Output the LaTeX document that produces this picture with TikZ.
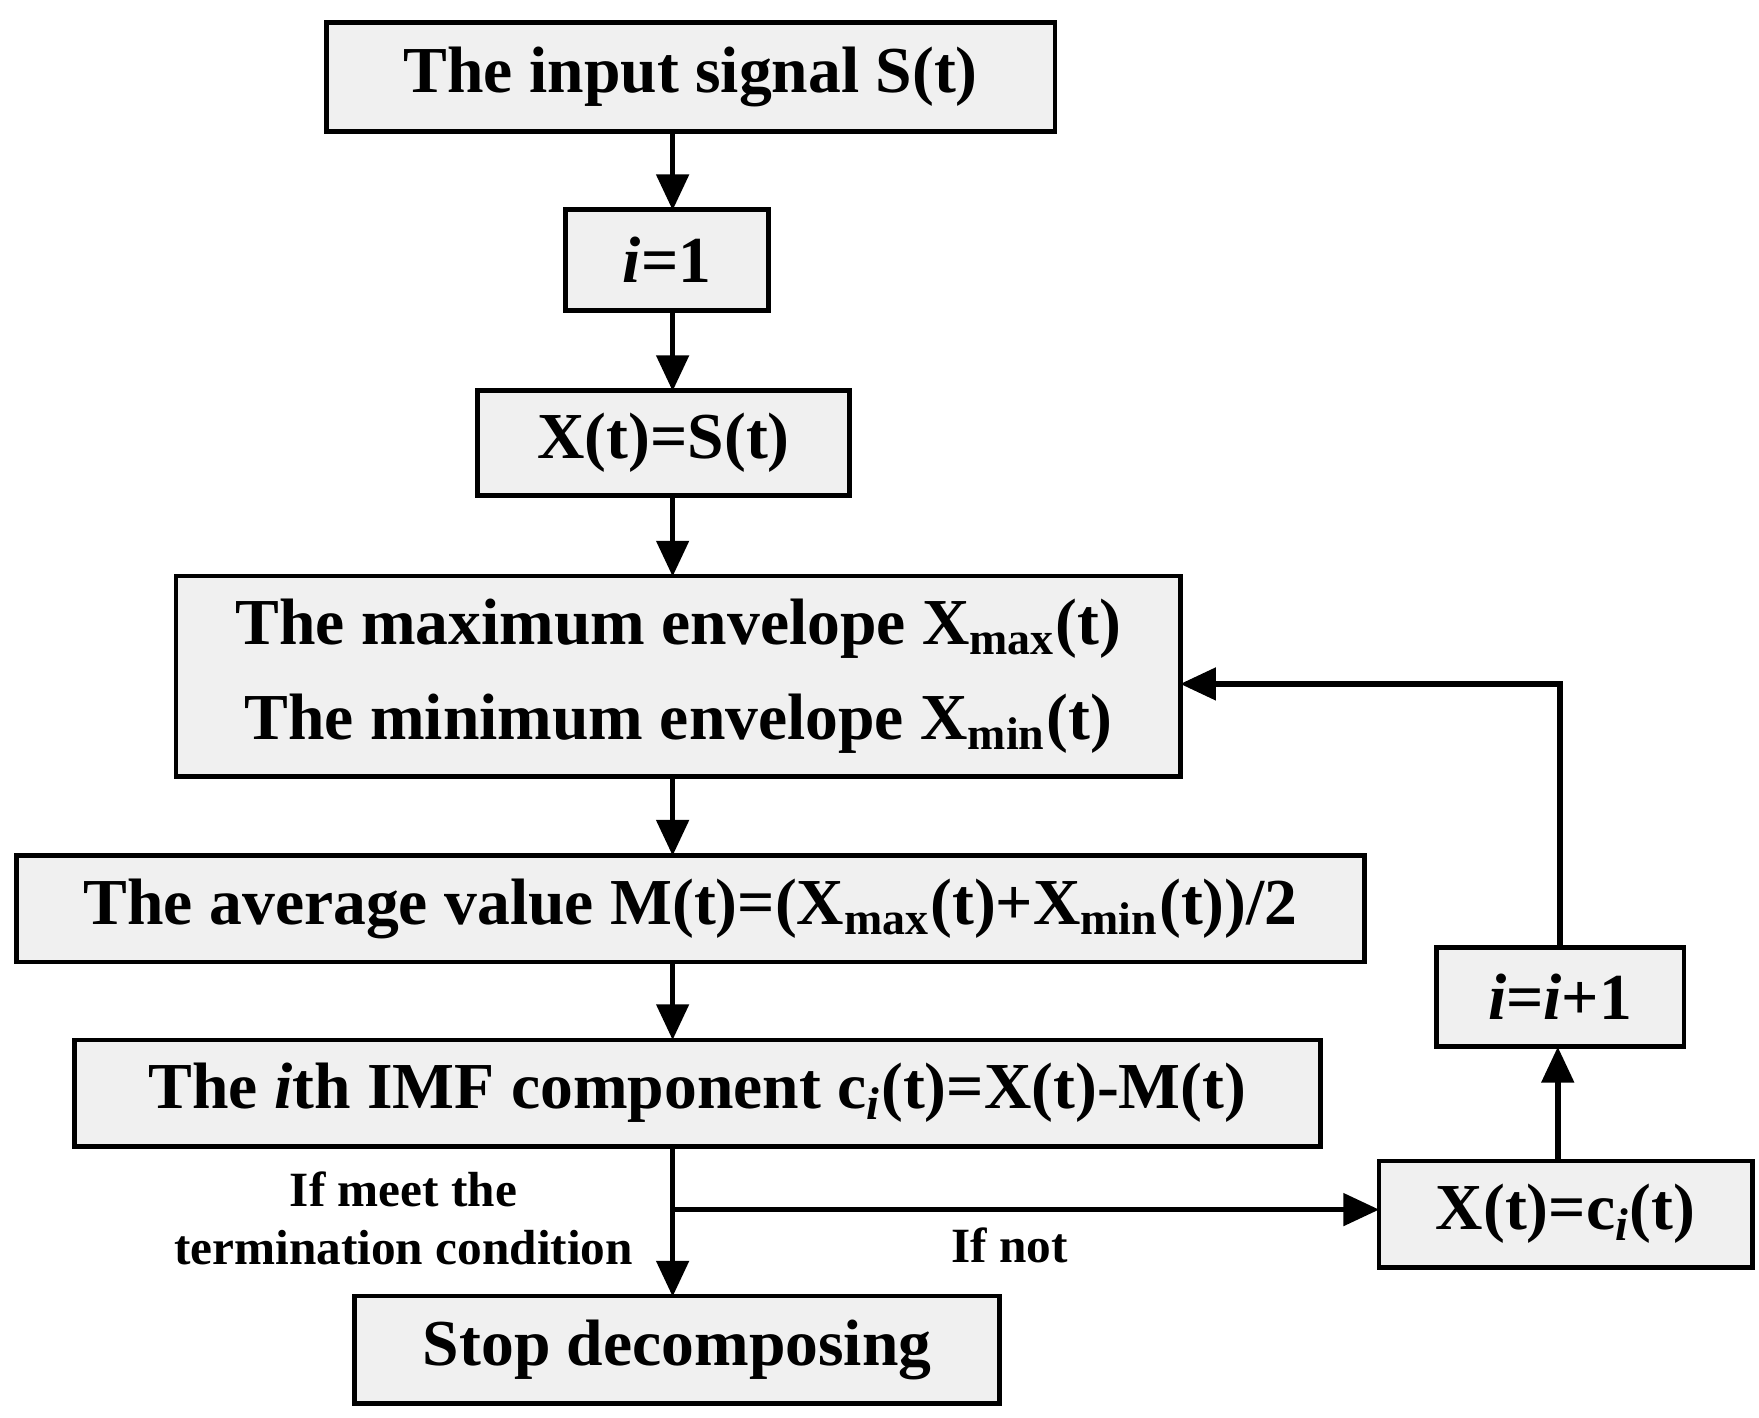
\documentclass[tikz,border=0pt]{standalone}
\usepackage{fontspec}
\setmainfont{Liberation Serif}
\usetikzlibrary{arrows.meta}
\begin{document}
\begin{tikzpicture}[x=0.01cm,y=-0.01cm,
 box/.style={draw,line width=1.2pt,fill=gray!12,inner sep=0pt,font=\fontsize{16.5}{24}\selectfont\bfseries,align=center},
 arr/.style={line width=1.4pt,-{Stealth[length=9pt,width=8pt,inset=0pt]}},
 lab/.style={font=\fontsize{12.4}{14.5}\selectfont\bfseries,align=center}]
\useasboundingbox (0,0) rectangle (1556,1254);
\node[box,minimum width=6.44cm,minimum height=0.96cm] (a) at (611,68) {The input signal S(t)};
\node[box,minimum width=1.80cm,minimum height=0.89cm] (b) at (590,230) {\textit{i}=1};
\node[box,minimum width=3.29cm,minimum height=0.93cm] (c) at (587,392) {X(t)=S(t)};
\node[box,minimum width=8.88cm,minimum height=1.77cm] (d) at (600,598) {The maximum envelope X\textsubscript{max}(t)\\The minimum envelope X\textsubscript{min}(t)};
\node[box,minimum width=11.92cm,minimum height=0.94cm] (e) at (611,804) {The average value M(t)=(X\textsubscript{max}(t)+X\textsubscript{min}(t))/2};
\node[box,minimum width=11.01cm,minimum height=0.94cm] (f) at (617,967) {The \textit{i}th IMF component c\textsubscript{\textit{i}}(t)=X(t)-M(t)};
\node[box,minimum width=5.70cm,minimum height=0.95cm] (g) at (599,1194) {Stop decomposing};
\node[box,minimum width=3.30cm,minimum height=0.94cm] (h) at (1385,1074) {X(t)=c\textsubscript{\textit{i}}(t)};
\node[box,minimum width=2.19cm,minimum height=0.88cm] (k) at (1380,882) {\textit{i}=\textit{i}+1};
\coordinate (j) at (595,1070);
\draw[arr] (595,116) -- (595,186);
\draw[arr] (595,275) -- (595,346);
\draw[arr] (595,439) -- (595,510);
\draw[arr] (595,687) -- (595,757);
\draw[arr] (595,851) -- (595,920);
\draw[arr] (595,1014) -- (595,1147);
\draw[arr] (j) -- (1220,1070);
\draw[arr] (1378,1027) -- (1378,926);
\draw[arr] (1380,838) -- (1380,605) -- (1044,605);
\node[lab] at (357,1078) {If meet the\\termination condition};
\node[lab] at (893,1102) {If not};
\end{tikzpicture}
\end{document}
